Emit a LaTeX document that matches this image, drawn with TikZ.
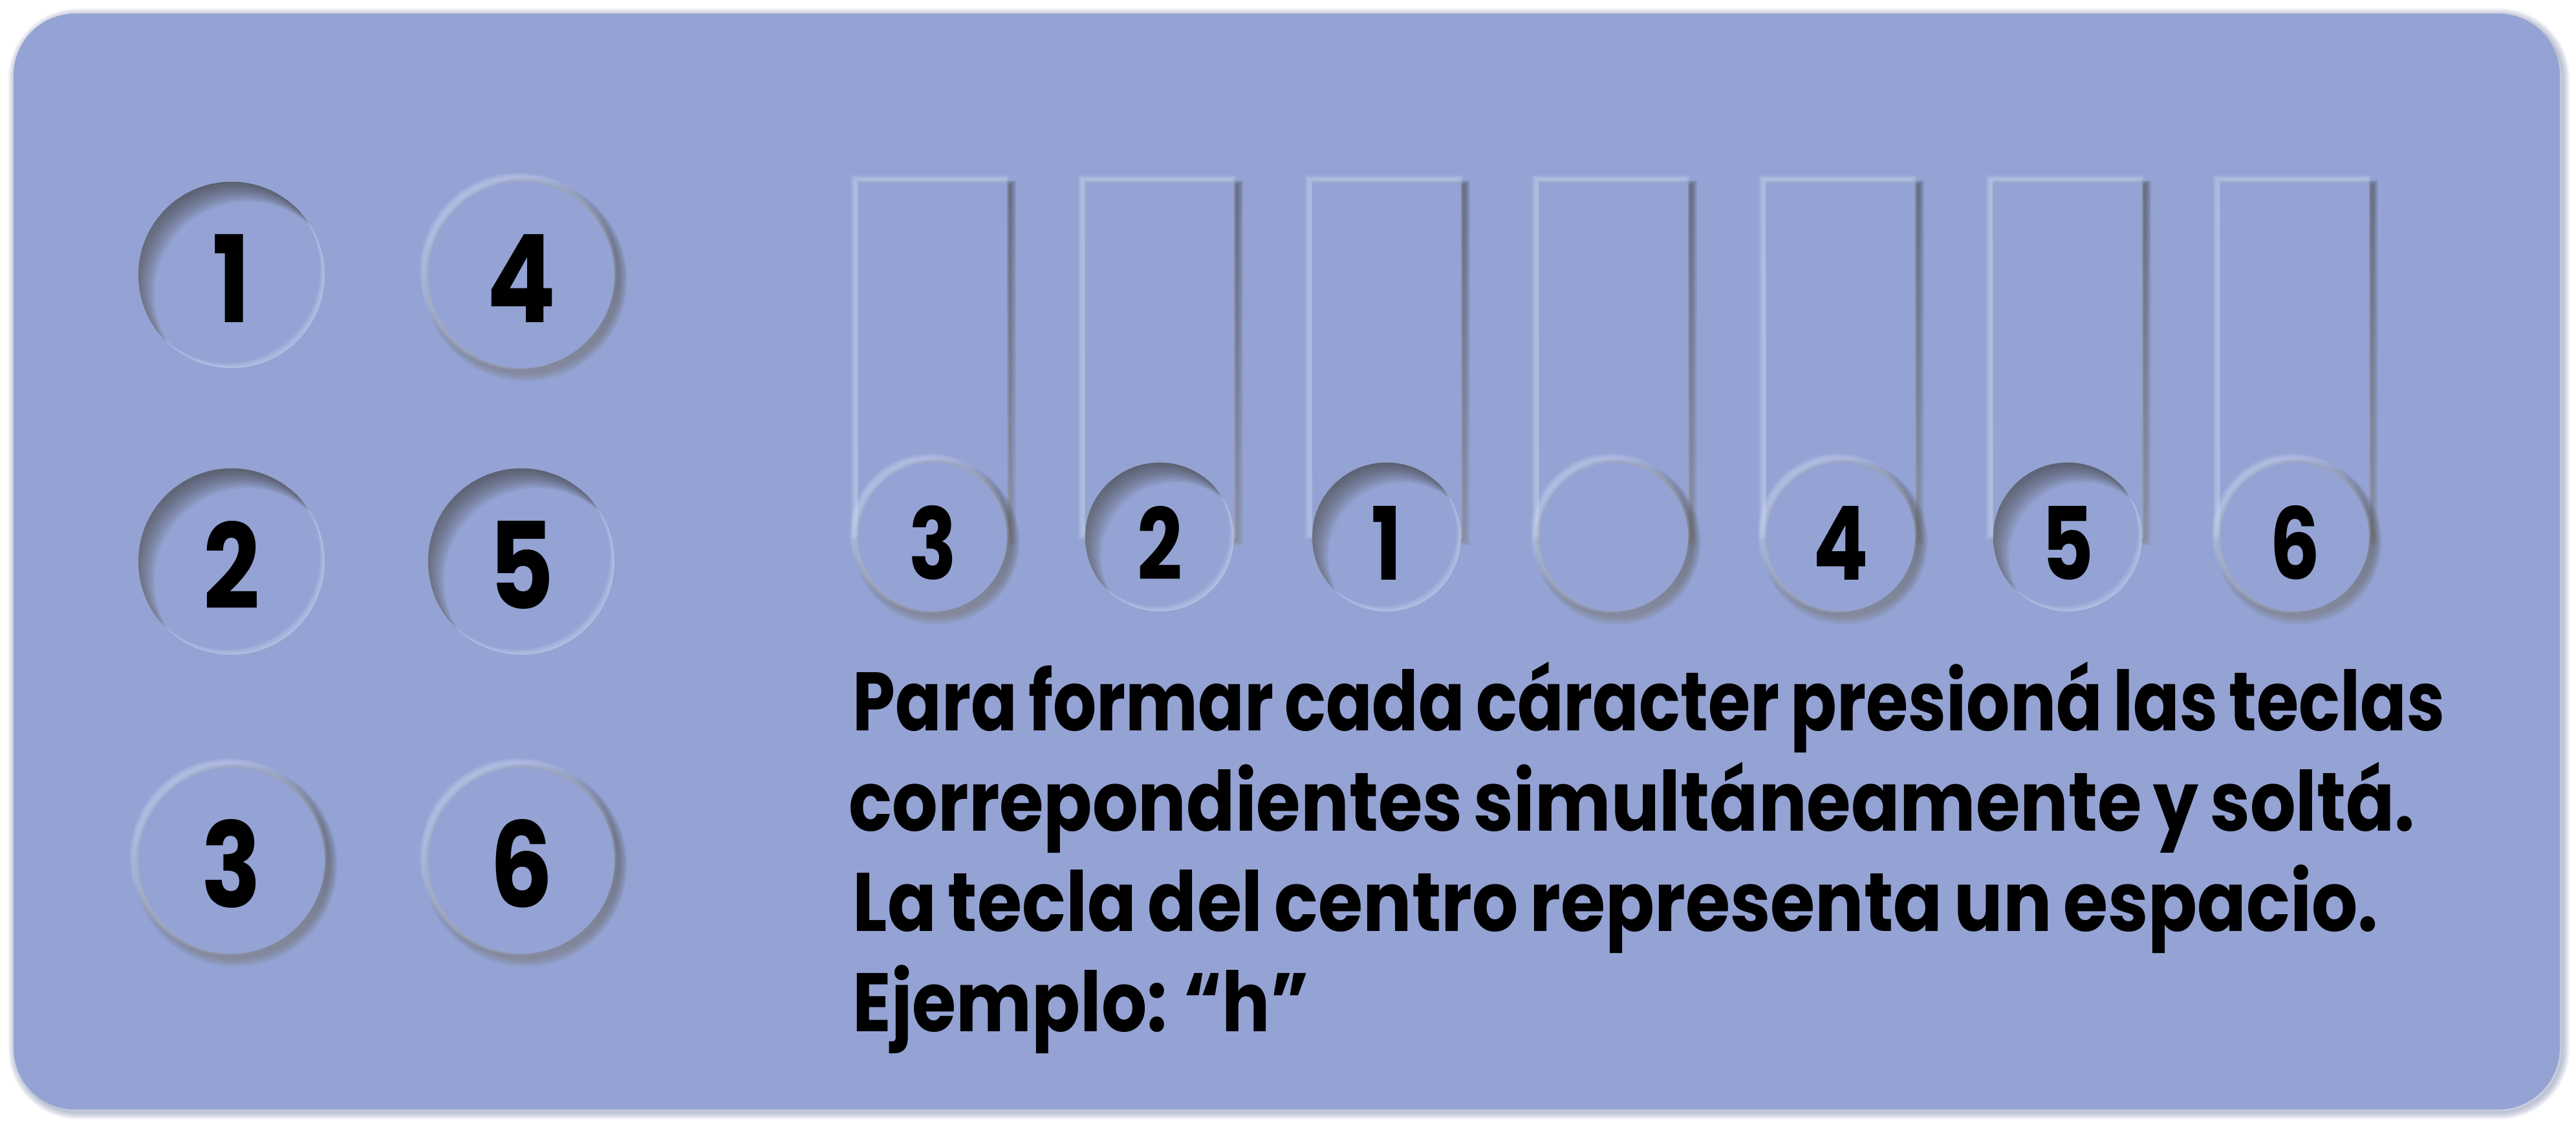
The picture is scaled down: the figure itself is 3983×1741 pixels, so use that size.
\documentclass[tikz,border=0pt]{standalone}
\usepackage{fontspec}
\setmainfont{Poppins}
\newfontfamily\txtfont{Poppins}[WordSpace=0.75]
\usepackage{graphicx}
\usetikzlibrary{calc}
\definecolor{panel}{RGB}{148,163,211}
\definecolor{shade}{RGB}{70,80,120}
\definecolor{hilite}{RGB}{215,226,250}
\definecolor{halo}{RGB}{95,108,155}
\newcommand{\raisedcirc}[3]{%
  \foreach \i in {1,...,8}{
    \fill[shade, opacity=0.05] ($(#1,#2)+(6,7)$) circle ({#3+\i*1.7});
  }
  \foreach \i in {1,...,6}{
    \fill[hilite, opacity=0.09] ($(#1,#2)+(-5,-6)$) circle ({#3+\i*1.4});
  }
  \fill[panel] (#1,#2) circle (#3);
}
\newcommand{\insetcirc}[3]{%
  \fill[panel] (#1,#2) circle (#3);
  \begin{scope}
    \clip (#1,#2) circle (#3);
    \foreach \i in {1,...,14}{
      \fill[shade, opacity=0.035, even odd rule] (#1,#2) circle ({#3+40}) ($(#1,#2)+(\i*1.8,\i*2.2)$) circle (#3);
    }
    \foreach \i in {1,...,5}{
      \fill[hilite, opacity=0.11, even odd rule] (#1,#2) circle ({#3+30}) ($(#1,#2)+(-\i*1.4,-\i*1.6)$) circle (#3);
    }
  \end{scope}
}
\newcommand{\raisedrect}[4]{% x1,y1,x2,y2
  \foreach \i in {1,...,6}{
    \fill[shade, opacity=0.055] ($(#1,#2)+(5-\i*1.2,4-\i*1.2)$) rectangle ($(#3,#4)+(5+\i*1.5,5+\i*1.5)$);
  }
  \foreach \i in {1,...,6}{
    \fill[hilite, opacity=0.09] ($(#1,#2)+(-4-\i*1.3,-4-\i*1.3)$) rectangle ($(#3,#4)+(-4+\i*1.2,-4+\i*1.2)$);
  }
  \fill[panel] (#1,#2) rectangle (#3,#4);
}
\tikzset{
  digbig/.style={inner sep=0pt, text=black},
  digsmall/.style={inner sep=0pt, text=black},
  textline/.style={anchor=base west, inner sep=0pt, text=black}
}
\newcommand{\bigdig}[1]{\scalebox{0.84}[1]{\resizebox{!}{1.36cm}{\bfseries #1}}}
\newcommand{\smalldig}[1]{\scalebox{0.8}[1]{\resizebox{!}{1.14cm}{\bfseries #1}}}
\newcommand{\tline}[2]{\resizebox{#1}{0.9cm}{\txtfont\bfseries\vphantom{X}\smash{#2}}}
\begin{document}
\begin{tikzpicture}[x=0.01cm,y=-0.01cm]
\useasboundingbox (0,0) rectangle (3983,1741);
\fill[white] (0,0) rectangle (3983,1741);
% panel shadow
\foreach \i in {1,...,8}{
  \draw[halo, opacity=0.06, line width={\i*2.8*0.01cm}, rounded corners=0.97cm] (24,24) rectangle (3962,1719);
}
\fill[panel, rounded corners=0.95cm] (21,21) rectangle (3958,1715);
% left grid
\insetcirc{358}{425}{144}
\raisedcirc{806}{425}{144}
\insetcirc{358}{868}{144}
\insetcirc{806}{868}{144}
\raisedcirc{358}{1330}{144}
\raisedcirc{806}{1330}{144}
\node[digbig] (g1) at (358,430) {\bigdig{1}};
\node[digbig] (g4) at (806,430) {\bigdig{4}};
\node[digbig] (g2) at (358,873) {\bigdig{2}};
\node[digbig] (g5) at (806,873) {\bigdig{5}};
\node[digbig] (g3) at (358,1335) {\bigdig{3}};
\node[digbig] (g6) at (806,1335) {\bigdig{6}};
% key row
\foreach \k in {0,...,6}{
  \pgfmathsetmacro{\cx}{1442+351*\k}
  \raisedrect{\cx-115}{282}{\cx+115}{830}
}
\raisedcirc{1442}{830}{115}
\insetcirc{1793}{830}{115}
\insetcirc{2144}{830}{115}
\raisedcirc{2495}{830}{115}
\raisedcirc{2846}{830}{115}
\insetcirc{3197}{830}{115}
\raisedcirc{3548}{830}{115}
\node[digsmall] (k3) at (1442,839) {\smalldig{3}};
\node[digsmall] (k2) at (1793,839) {\smalldig{2}};
\node[digsmall] (k1) at (2144,839) {\smalldig{1}};
\node[digsmall] (k4) at (2846,839) {\smalldig{4}};
\node[digsmall] (k5) at (3197,839) {\smalldig{5}};
\node[digsmall] (k6) at (3548,839) {\smalldig{6}};
% text
\node[textline] (l1) at (1318,1129) {\tline{24.6cm}{Para formar cada cáracter presioná las teclas}};
\node[textline] (l2) at (1312,1284) {\tline{24.2cm}{correpondientes simultáneamente y soltá.}};
\node[textline] (l3) at (1318,1439) {\tline{23.57cm}{La tecla del centro representa un espacio.}};
\node[textline] (l4) at (1318,1594) {\tline{7.05cm}{Ejemplo: “h”}};
\end{tikzpicture}
\end{document}
